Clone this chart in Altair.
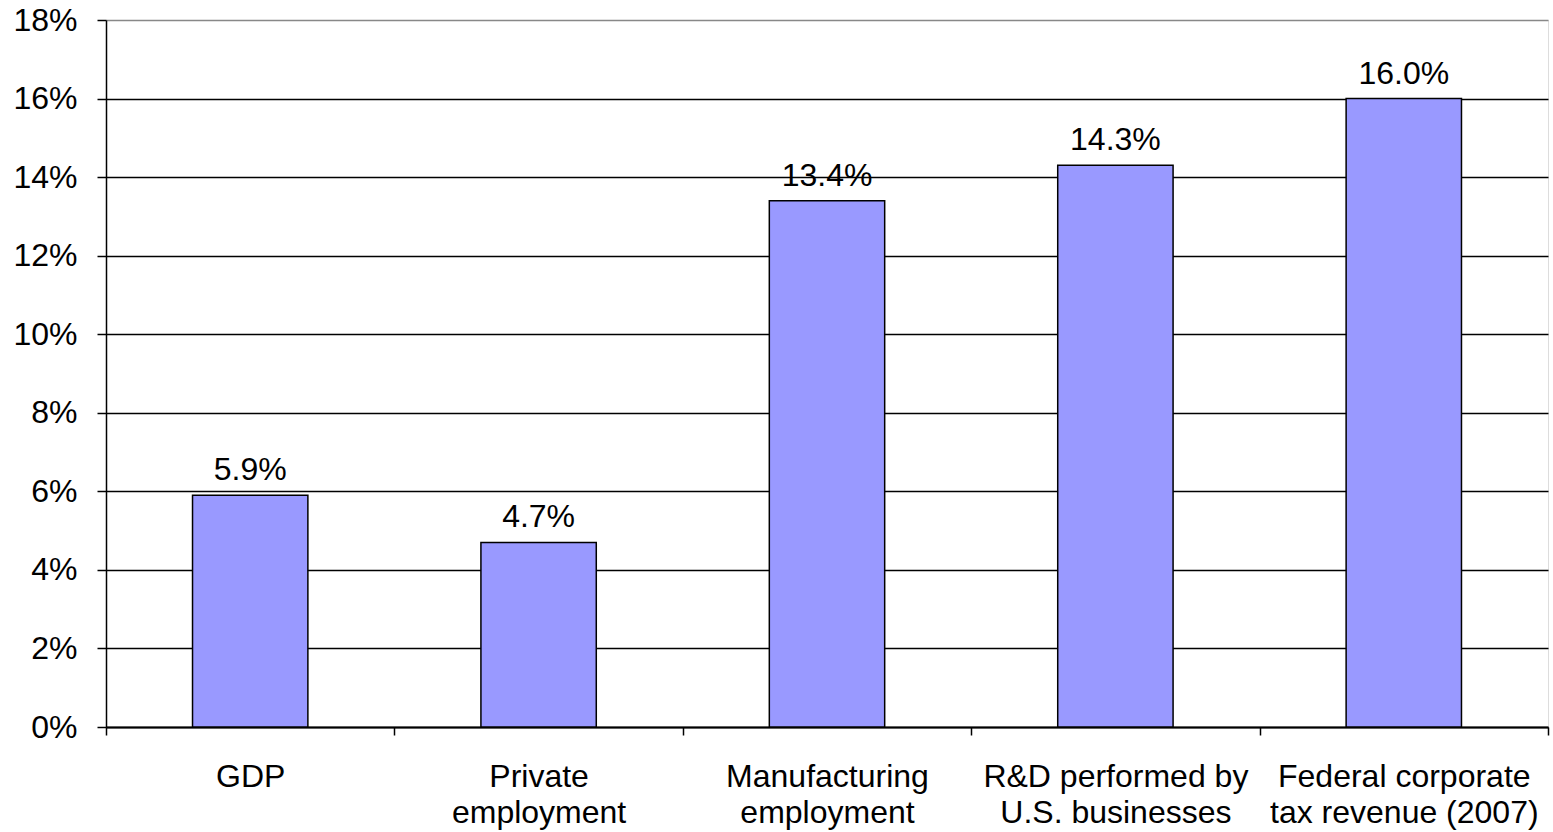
import altair as alt
import pandas as pd

categories = [
    "GDP",
    "Private\nemployment",
    "Manufacturing\nemployment",
    "R&D performed by\nU.S. businesses",
    "Federal corporate\ntax revenue (2007)",
]
values = [5.9, 4.7, 13.4, 14.3, 16.0]
y_ticks = [0, 2, 4, 6, 8, 10, 12, 14, 16, 18]

df = pd.DataFrame({"cat": categories, "val": values})

FONT = "Liberation Sans"

x_enc = alt.X(
    "cat:N",
    sort=categories,
    title=None,
    scale=alt.Scale(paddingInner=0, paddingOuter=0),
    axis=alt.Axis(
        labelAngle=0,
        labelExpr="split(datum.label, '\\n')",
        labelFont=FONT,
        labelFontSize=32,
        labelColor="black",
        labelLineHeight=36,
        labelPadding=26,
        labelBaseline="top",
        labelLimit=0,
        tickBand="extent",
        tickSize=8,
        tickColor="black",
        tickWidth=1.5,
        domainColor="black",
        domainWidth=2,
        grid=False,
    ),
)
y_enc = alt.Y(
    "val:Q",
    title=None,
    scale=alt.Scale(domain=[0, 18], nice=False),
    axis=alt.Axis(
        values=y_ticks,
        labelExpr="datum.value + '%'",
        labelFont=FONT,
        labelFontSize=32,
        labelColor="black",
        labelPadding=20,
        tickSize=9,
        tickColor="black",
        tickWidth=1.5,
        domainColor="black",
        domainWidth=1.5,
        grid=True,
        gridColor=alt.ConditionalAxisColor(
            condition={"test": "datum.value >= 18", "value": "#888888"},
            value="black",
        ),
        gridWidth=1.4,
    ),
)

bars = alt.Chart(df).mark_bar(
    color="#9999FF", stroke="black", strokeWidth=1.5, width={"band": 0.4}
).encode(x=x_enc, y=y_enc)

texts = alt.Chart(df).transform_calculate(
    lbl="format(datum.val, '.1f') + '%'"
).mark_text(
    font=FONT, fontSize=32, color="black", baseline="alphabetic", dy=-15
).encode(x=alt.X("cat:N", sort=categories), y="val:Q", text="lbl:N")

chart = (
    alt.layer(bars, texts)
    .properties(
        width=1442,
        height=707,
        autosize=alt.AutoSizeParams(type="none"),
        padding={"left": 106, "top": 20, "right": 5, "bottom": 105},
    )
    .configure_view(stroke="#888888", strokeWidth=2)
    .configure(background="white")
)

chart.save("out.html", embed_options={"renderer": "svg", "actions": False})
